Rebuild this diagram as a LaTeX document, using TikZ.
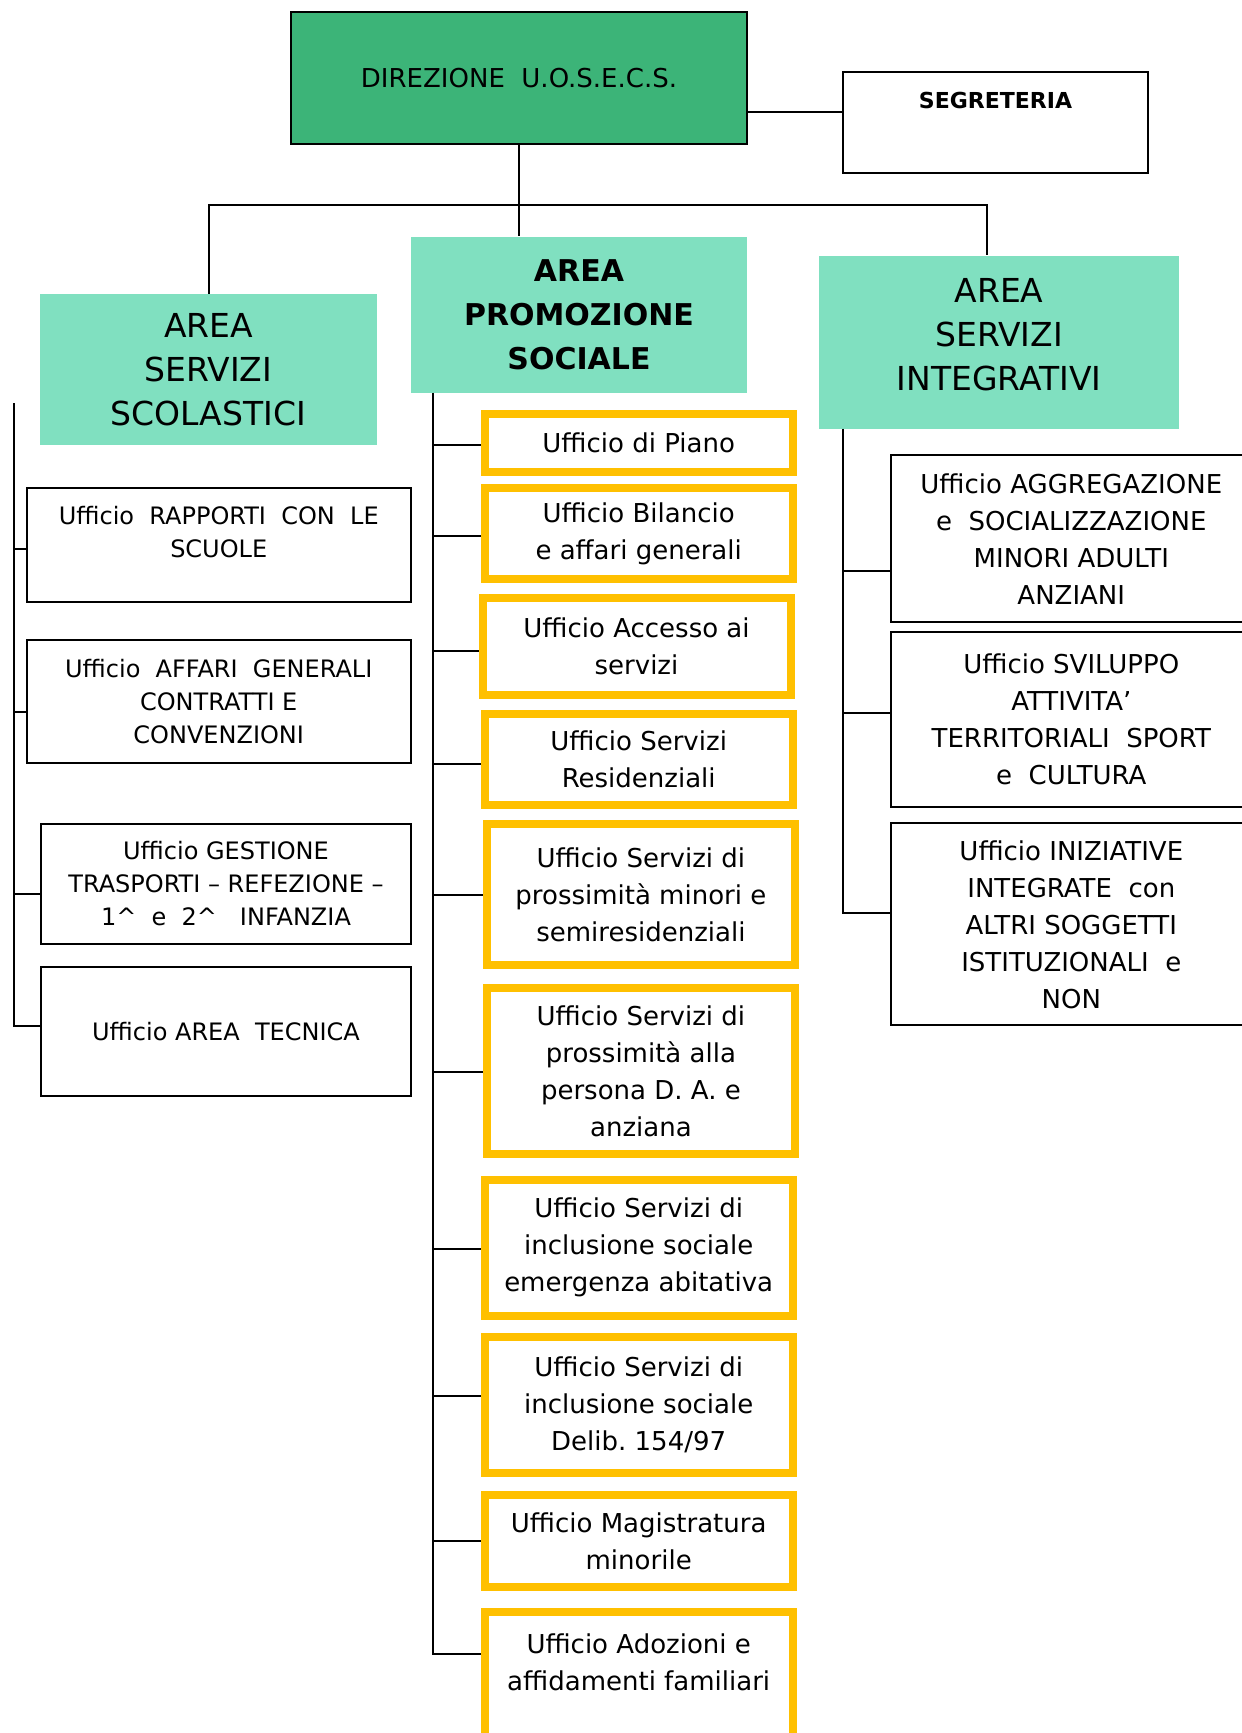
\documentclass[tikz,border=0pt]{standalone}
\usepackage{fontspec}
\setmainfont{DejaVu Sans}
\usepackage{tikz}
\usetikzlibrary{positioning,calc}

\definecolor{dirgreen}{HTML}{3CB478}
\definecolor{areamint}{HTML}{80E0C0}
\definecolor{uffgold}{HTML}{FFC000}
\frenchspacing

\begin{document}
\begin{tikzpicture}[
  x=1pt, y=-1pt,
  every node/.style={inner sep=0pt},
  link/.style={line width=2pt},
  dirbox/.style={draw, line width=2.5pt, fill=dirgreen, minimum width=456pt, minimum height=132pt, font=\fontsize{26}{37}\selectfont},
  segbox/.style={draw, line width=2pt, outer sep=1pt, minimum width=305pt, minimum height=101pt, font=\bfseries\fontsize{22}{30}\selectfont},
  area/.style={fill=areamint, align=center, font=\fontsize{33}{44}\selectfont},
  areab/.style={area, font=\bfseries\fontsize{30}{44}\selectfont},
  uffl/.style={draw, line width=2pt, outer sep=1pt, align=center, font=\fontsize{24}{33}\selectfont},
  uffc/.style={draw=uffgold, line width=8pt, outer sep=4pt, minimum width=308pt, align=center, font=\fontsize{26}{37}\selectfont},
  uffr/.style={draw, line width=2pt, outer sep=1pt, minimum width=361pt, align=center, font=\fontsize{26}{37}\selectfont}
]
\clip (0,0) rectangle (1242,1733);

% Direzione
\node[dirbox] (dir) at (519,78) {DIREZIONE~~U.O.S.E.C.S.};
\node[segbox, text height=16pt, text depth=44pt] (seg) at (995.5,122.5) {SEGRETERIA};

% Aree
\node[area, minimum width=337pt, minimum height=151pt] (scol) at (208.5,369.5) {AREA\\SERVIZI\\SCOLASTICI};
\node[areab, minimum width=336pt, minimum height=156pt] (promo) at (579,314.5) {AREA\\PROMOZIONE\\SOCIALE};
\node[area, minimum width=360pt, minimum height=173pt] (integ) at (999,342) {AREA\\SERVIZI\\INTEGRATIVI\\[-28pt]\mbox{}};

% Uffici area servizi scolastici
\node[uffl, minimum width=384pt, minimum height=114pt] (lb1) at (218.75,544.5) {Ufficio~~RAPPORTI~~CON~~LE\\SCUOLE\\[-7.6pt]\mbox{}};
\node[uffl, minimum width=384pt, minimum height=123pt] (lb2) at (218.75,701.5) {Ufficio~~AFFARI~~GENERALI\\CONTRATTI E\\CONVENZIONI};
\node[uffl, minimum width=370pt, minimum height=120pt] (lb3) at (226,883.5) {Ufficio GESTIONE\\TRASPORTI -- REFEZIONE --\\1\textasciicircum~~e~~2\textasciicircum~~~INFANZIA};
\node[uffl, minimum width=370pt, minimum height=129pt] (lb4) at (226,1031.5) {Ufficio AREA~~TECNICA};

% Uffici area promozione sociale
\node[uffc, minimum height=58pt] (c1) at (638.7,443) {Ufficio di Piano};
\node[uffc, minimum height=91pt] (c2) at (638.7,533.7) {Ufficio Bilancio\\e affari generali};
\node[uffc, minimum height=97pt] (c3) at (636.5,646) {Ufficio Accesso ai\\servizi};
\node[uffc, minimum height=91pt] (c4) at (638.7,759) {Ufficio Servizi\\Residenziali};
\node[uffc, minimum height=141pt] (c5) at (640.9,894.5) {Ufficio Servizi di\\prossimità minori e\\semiresidenziali};
\node[uffc, minimum height=166pt] (c6) at (640.9,1070.8) {Ufficio Servizi di\\prossimità alla\\persona D. A. e\\anziana};
\node[uffc, minimum height=136pt] (c7) at (638.7,1247.5) {Ufficio Servizi di\\inclusione sociale\\emergenza abitativa};
\node[uffc, minimum height=136pt] (c8) at (638.7,1404.5) {Ufficio Servizi di\\inclusione sociale\\Delib. 154/97};
\node[uffc, minimum height=92pt] (c9) at (638.7,1541) {Ufficio Magistratura\\minorile};
\node[uffc, minimum height=129pt] (c10) at (638.7,1676.4) {Ufficio Adozioni e\\affidamenti familiari\\[-8.2pt]\mbox{}};

% Uffici area servizi integrativi
\node[uffr, minimum height=167pt] (r1) at (1071.3,538.7) {Ufficio AGGREGAZIONE\\e~~SOCIALIZZAZIONE\\MINORI ADULTI\\ANZIANI};
\node[uffr, minimum height=175pt] (r2) at (1071.3,719.4) {Ufficio SVILUPPO\\ATTIVITA’\\TERRITORIALI~~SPORT\\e~~CULTURA};
\node[uffr, minimum height=202pt] (r3) at (1071.3,924.3) {Ufficio INIZIATIVE\\INTEGRATE~~con\\ALTRI SOGGETTI\\ISTITUZIONALI~~e\\NON};

% Collegamenti direzione
\coordinate (bus) at (519,205);
\draw[link] (seg.west) ++(0,-10.5) coordinate (segin) -- (segin -| dir.east);
\draw[link] (dir.south) -- (dir.south |- promo.north);
\draw[link] (scol.north) |- (bus) -| ([xshift=-12pt]integ.north);

% Collegamenti uffici
\coordinate (ltop) at (14,403);
\coordinate (ctop) at ([xshift=22pt]promo.south west);
\coordinate (rtop) at ([xshift=24pt]integ.south west);

\draw[link] (ltop) |- ([yshift=6pt]lb4.west);
\foreach \b/\d in {lb1/-4.7, lb2/-10, lb3/-10.5}
  \draw[link] ([yshift=\d pt]\b.west) coordinate (t) -- (t -| ltop);

\draw[link] (ctop) |- ([yshift=22.2pt]c10.west);
\foreach \b/\d in {c1/-2, c2/-2, c3/-5, c4/-4.6, c5/0, c6/-1, c7/-1, c8/9, c9/0}
  \draw[link] ([yshift=\d pt]\b.west) coordinate (t) -- (t -| ctop);

\draw[link] (rtop) |- ([yshift=11.6pt]r3.west);
\foreach \b/\d in {r1/-32.6, r2/6.7}
  \draw[link] ([yshift=\d pt]\b.west) coordinate (t) -- (t -| rtop);

\end{tikzpicture}
\end{document}
